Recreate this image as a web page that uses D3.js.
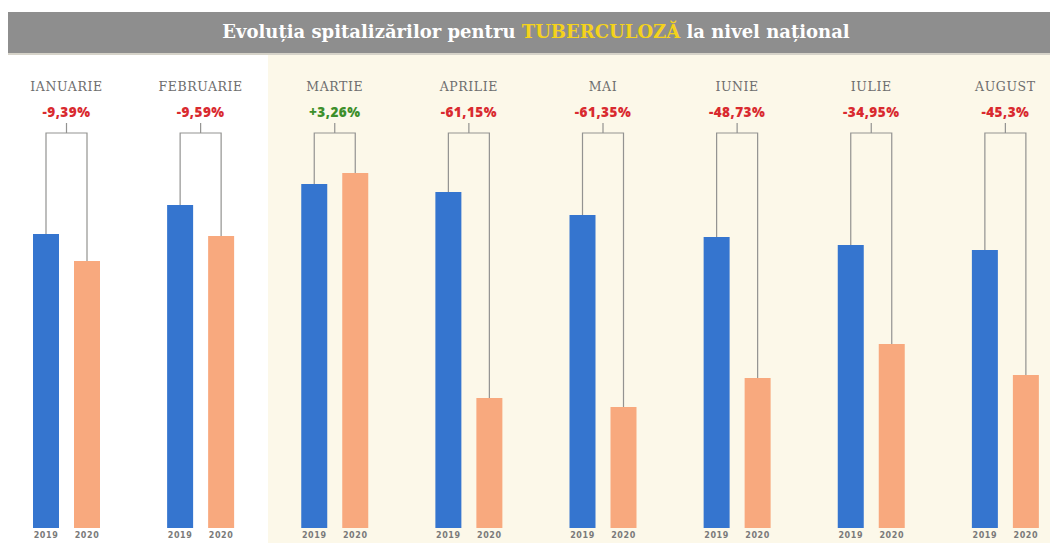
<!DOCTYPE html>
<html lang="ro">
<head>
<meta charset="utf-8">
<title>Evoluția spitalizărilor pentru TUBERCULOZĂ</title>
<script src="https://d3js.org/d3.v7.min.js"></script>
<style>
  body { margin: 0; background: #fff; }
  svg { display: block; }
</style>
</head>
<body>
<svg id="chart" width="1050" height="543"></svg>
<script>
  const months = ["IANUARIE", "FEBRUARIE", "MARTIE", "APRILIE", "MAI", "IUNIE", "IULIE", "AUGUST"];
  const years = ["2019", "2020"];
  const values2019 = [294, 323, 344, 336, 313, 291, 283, 278];
  const values2020 = [267, 292, 355, 130, 121, 150, 184, 153];
  const changes = ["-9,39%", "-9,59%", "+3,26%", "-61,15%", "-61,35%", "-48,73%", "-34,95%", "-45,3%"];

  const W = 1050, H = 543;
  const svg = d3.select("#chart");

  // backgrounds
  svg.append("rect").attr("x", 268).attr("y", 54).attr("width", W - 268).attr("height", H - 54)
    .attr("fill", "#fcf8e9");
  svg.append("rect").attr("x", 8).attr("y", 12).attr("width", W - 8).attr("height", 41)
    .attr("fill", "#8e8e8e");
  svg.append("rect").attr("x", 8).attr("y", 53).attr("width", W - 8).attr("height", 2)
    .attr("fill", "#d6d3c9");

  const title = svg.append("text")
    .attr("x", 536).attr("y", 38)
    .attr("text-anchor", "middle")
    .attr("font-family", "'DejaVu Serif', serif")
    .attr("font-weight", "bold")
    .attr("font-size", 18)
    .attr("fill", "#fff");
  title.append("tspan").text("Evoluția spitalizărilor pentru ");
  title.append("tspan").attr("fill", "#f4d21c").text("TUBERCULOZĂ");
  title.append("tspan").text(" la nivel național");

  // scales
  const x = d3.scaleBand().domain(months).range([0, 1073]);
  const xi = d3.scaleBand().domain(years).range([33, 100]).paddingInner(0.366);
  const y = d3.scaleLinear().domain([0, 400]).range([528, 128]);

  const colors = { "2019": "#3575cf", "2020": "#f8a97e" };
  const series = { "2019": values2019, "2020": values2020 };

  const groups = svg.append("g").selectAll("g.month").data(months).join("g")
    .attr("class", "month")
    .attr("transform", d => `translate(${x(d)},0)`);

  groups.each(function (m, i) {
    const grp = d3.select(this);
    const c19 = xi("2019") + xi.bandwidth() / 2;
    const c20 = xi("2020") + xi.bandwidth() / 2;
    const cx = (c19 + c20) / 2;
    const top = 133;

    grp.append("text")
      .attr("x", cx).attr("y", 91)
      .attr("text-anchor", "middle")
      .attr("font-family", "'DejaVu Serif', serif")
      .attr("font-size", 12.5)
      .attr("letter-spacing", 0.6)
      .attr("fill", "#6e6e6e")
      .text(m);

    grp.append("text")
      .attr("x", cx).attr("y", 117)
      .attr("text-anchor", "middle")
      .attr("font-family", "'Open Sans', sans-serif")
      .attr("font-weight", "800")
      .attr("font-size", 13.5)
      .attr("letter-spacing", 0.5)
      .attr("fill", changes[i].startsWith("+") ? "#3d8f2b" : "#d92a2f")
      .text(changes[i]);

    grp.append("path")
      .attr("d", `M${c19},${y(values2019[i])}V${top}H${c20}V${y(values2020[i])}M${cx},${top}V123`)
      .attr("fill", "none")
      .attr("stroke", "#939391")
      .attr("stroke-width", 1.2);

    years.forEach(yr => {
      grp.append("rect")
        .attr("x", xi(yr)).attr("width", xi.bandwidth())
        .attr("y", y(series[yr][i]))
        .attr("height", y(0) - y(series[yr][i]))
        .attr("fill", colors[yr]);
      grp.append("text")
        .attr("x", xi(yr) + xi.bandwidth() / 2).attr("y", 538)
        .attr("text-anchor", "middle")
        .attr("font-family", "'DejaVu Sans', sans-serif")
        .attr("font-size", 8)
        .attr("font-weight", "bold")
        .attr("letter-spacing", 0.6)
        .attr("fill", "#7a7a7a")
        .text(yr);
    });
  });
</script>
</body>
</html>
